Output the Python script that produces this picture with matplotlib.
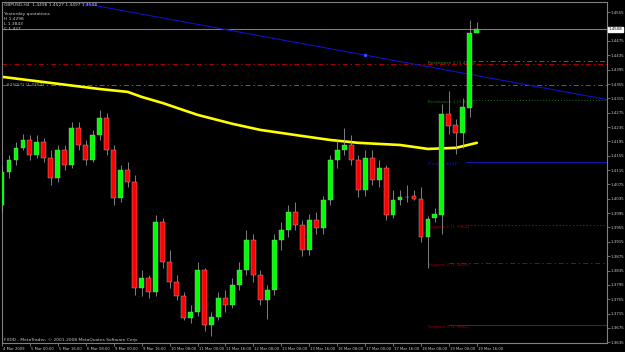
import matplotlib.pyplot as plt
import matplotlib.transforms as mtransforms
import numpy as np

opens = [1.4018, 1.4110, 1.4143, 1.4177, 1.4199, 1.4157, 1.4193, 1.4149, 1.4093, 1.4171,
         1.4129, 1.4232, 1.4185, 1.4143, 1.4213, 1.4260, 1.4171, 1.4037, 1.4115, 1.4082,
         1.3786, 1.3814, 1.3775, 1.3970, 1.3859, 1.3803, 1.3764, 1.3703, 1.3719, 1.3837,
         1.3683, 1.3706, 1.3759, 1.3739, 1.3795, 1.3837, 1.3920, 1.3823, 1.3753, 1.3781,
         1.3920, 1.3948, 1.3998, 1.3962, 1.3892, 1.3976, 1.3954, 1.4032, 1.4143, 1.4171,
         1.4185, 1.4143, 1.4060, 1.4149, 1.4087, 1.4121, 1.3990, 1.4032, 1.4040, 1.4043,
         1.4034, 1.3929, 1.3981, 1.3990, 1.4270, 1.4241, 1.4218, 1.4288, 1.4498]
highs = [1.4129, 1.4157, 1.4193, 1.4216, 1.4213, 1.4213, 1.4204, 1.4171, 1.4185, 1.4185,
         1.4249, 1.4249, 1.4199, 1.4227, 1.4283, 1.4274, 1.4185, 1.4129, 1.4138, 1.4101,
         1.3837, 1.3823, 1.3990, 1.3981, 1.3892, 1.3823, 1.3775, 1.3739, 1.3859, 1.3842,
         1.3719, 1.3775, 1.3781, 1.3814, 1.3859, 1.3948, 1.3937, 1.3837, 1.3795, 1.3937,
         1.3970, 1.4018, 1.4026, 1.3976, 1.3993, 1.3998, 1.4043, 1.4157, 1.4199, 1.4232,
         1.4213, 1.4157, 1.4171, 1.4171, 1.4143, 1.4129, 1.4060, 1.4060, 1.4073, 1.4060,
         1.4068, 1.3987, 1.4009, 1.4298, 1.4336, 1.4257, 1.4316, 1.4533, 1.4527]
lows = [1.3998, 1.4093, 1.4129, 1.4171, 1.4143, 1.4149, 1.4138, 1.4073, 1.4082, 1.4115,
        1.4121, 1.4171, 1.4129, 1.4138, 1.4199, 1.4157, 1.4018, 1.4026, 1.4068, 1.3767,
        1.3764, 1.3759, 1.3764, 1.3842, 1.3786, 1.3753, 1.3697, 1.3689, 1.3708, 1.3667,
        1.3653, 1.3697, 1.3719, 1.3731, 1.3781, 1.3823, 1.3803, 1.3739, 1.3700, 1.3767,
        1.3892, 1.3929, 1.3948, 1.3875, 1.3878, 1.3937, 1.3937, 1.4018, 1.4121, 1.4157,
        1.4129, 1.4040, 1.4043, 1.4073, 1.4068, 1.3976, 1.3981, 1.4018, 1.4026, 1.4032,
        1.3915, 1.3843, 1.3970, 1.3937, 1.4216, 1.4160, 1.4177, 1.4263, 1.4497]
closes = [1.4110, 1.4143, 1.4177, 1.4199, 1.4157, 1.4193, 1.4149, 1.4093, 1.4171, 1.4129,
          1.4232, 1.4185, 1.4143, 1.4213, 1.4260, 1.4171, 1.4037, 1.4115, 1.4082, 1.3786,
          1.3814, 1.3775, 1.3970, 1.3859, 1.3803, 1.3764, 1.3703, 1.3719, 1.3837, 1.3683,
          1.3706, 1.3759, 1.3739, 1.3795, 1.3837, 1.3920, 1.3823, 1.3753, 1.3781, 1.3920,
          1.3948, 1.3998, 1.3962, 1.3892, 1.3976, 1.3954, 1.4032, 1.4143, 1.4171, 1.4185,
          1.4143, 1.4060, 1.4149, 1.4087, 1.4121, 1.3990, 1.4032, 1.4040, 1.4041, 1.4034,
          1.3929, 1.3979, 1.3993, 1.4270, 1.4238, 1.4218, 1.4291, 1.4498, 1.4508]

# media movil (amarilla)
ma_bars = [0, 7, 14, 18, 20, 23, 28, 33, 37, 43, 47, 51, 57, 61, 65, 68]
ma_values = [1.4375, 1.4358, 1.4341, 1.4333, 1.4319, 1.4302, 1.4269, 1.4244,
             1.4227, 1.4210, 1.4199, 1.4191, 1.4185, 1.4174, 1.4177, 1.4191]

# linea de tendencia azul
trend_bars = [11, 86]
trend_prices = [1.4582, 1.4314]
dot_bar = 52
dot_price = 1.4436

# pivotes fibonacci
level_names = ['Resistance 2', 'Resistance 1', 'Pivot', 'Support 1', 'Support 2', 'Support 3']
level_prices = [1.4418, 1.4311, 1.4137, 1.3963, 1.3856, 1.3682]
level_start = [66.4, 67, 66.4, 66.6, 64, 64]
level_colors = ['#1E8C1E', '#1F6A1F', '#1414B4', '#A00000', '#A00000', '#A00000']
level_styles = [(0, (5, 3, 1.5, 3)), (0, (1, 2)), '-', (0, (1.5, 2)), (0, (5, 3, 1.5, 3)), '-']

red_line = 1.4412
green_line = 1.4352
bid = 1.4508

# 1.4515 queda tapado por la caja del precio
price_ticks = [1.3635, 1.3675, 1.3715, 1.3755, 1.3795, 1.3835, 1.3875, 1.3915,
               1.3955, 1.3995, 1.4035, 1.4075, 1.4115, 1.4155, 1.4195, 1.4235,
               1.4275, 1.4315, 1.4355, 1.4395, 1.4435, 1.4475, 1.4555]
time_labels = ['4 Mar 2009', '5 Mar 00:00', '5 Mar 16:00', '6 Mar 08:00', '9 Mar 00:00',
               '9 Mar 16:00', '10 Mar 08:00', '11 Mar 00:00', '11 Mar 16:00', '12 Mar 08:00',
               '13 Mar 00:00', '13 Mar 16:00', '16 Mar 08:00', '17 Mar 00:00', '17 Mar 16:00',
               '18 Mar 08:00', '19 Mar 00:00', '19 Mar 16:00']

fs = 3.2
fg = '#C8C8C8'

fig = plt.figure(figsize=(6.25, 3.52), dpi=100, facecolor='black')
ax = fig.add_axes([2 / 625, 9 / 352, 605 / 625, 341 / 352])
ax.set_facecolor('black')
ax.set_xlim(0.214, 86.64)
ax.set_ylim(1.36330, 1.45836)

bars = np.arange(len(opens))
o = np.array(opens)
c = np.array(closes)
up = c >= o
cols = np.where(up, '#00FF00', '#FF0000')

# lineas horizontales
ax.axhline(bid, color='#6E7F8E', lw=0.8, zorder=1)
ax.axhline(red_line, color='#B00000', lw=0.7, ls=(0, (5, 3, 1.5, 3)), zorder=1)
ax.axhline(green_line, color='#1E8C1E', lw=0.7, ls=(0, (5, 3, 1.5, 3)), zorder=1)
ax.text(0.6, green_line, '#250(T) (1.4352)', color='#A0A0A0', fontsize=fs, va='center', zorder=2)

for name, p, x0, col, st in zip(level_names, level_prices, level_start, level_colors, level_styles):
    ax.plot([x0, 90], [p, p], color=col, lw=0.7, ls=st, zorder=1)
    ax.text(61.0, p, '%s (%.4f)' % (name, p), color=col, fontsize=fs, va='top', zorder=2)

ax.axline((trend_bars[0], trend_prices[0]), (trend_bars[1], trend_prices[1]),
          color='#1010C8', lw=0.8, zorder=1)
ax.plot(dot_bar, dot_price, 'o', color='#3050FF', ms=1.5, zorder=2)

# media movil
ax.plot(ma_bars, ma_values, color='#FFFF00', lw=1.9, zorder=2, solid_capstyle='round')

# velas
ax.vlines(bars, lows, highs, color='#A0A0A0', lw=0.55, zorder=3)
heights = np.abs(c - o)
heights = np.where(heights < 0.00005, 0.00005, heights)
ax.bar(bars, heights, bottom=np.minimum(o, c), width=0.7, color=cols,
       edgecolor='#B0B0B0', linewidth=0.3, zorder=4)

# ejes
for s in ax.spines.values():
    s.set_color('#808080')
    s.set_linewidth(0.8)
ax.yaxis.tick_right()
ax.set_yticks(price_ticks)
ax.set_yticklabels(['%.4f' % t for t in price_ticks])
ax.set_xticks(np.arange(0, len(time_labels) * 4, 4))
ax.set_xticklabels(time_labels, ha='left')
ax.tick_params(axis='both', colors='#808080', labelcolor=fg, length=2, width=0.6, pad=0.8)
ax.tick_params(axis='y', labelsize=2.9)
ax.tick_params(axis='x', labelsize=2.7)
off = mtransforms.ScaledTranslation(1 / 100, 0, fig.dpi_scale_trans)
for lab in ax.get_xticklabels():
    lab.set_transform(lab.get_transform() + off)

# caja de precio actual
blend = mtransforms.blended_transform_factory(ax.transAxes, ax.transData)
ax.text(1.003, bid, '%.4f' % bid, transform=blend, fontsize=2.9, color='black',
        va='center', ha='left', clip_on=False, zorder=10,
        bbox=dict(boxstyle='square,pad=0.15', fc='white', ec='white'))

# textos
fig.text(4 / 625, 1 - 5 / 352, 'GBPUSD,H4  1.4498 1.4527 1.4497 1.4508', color=fg, fontsize=fs, va='center')
fig.text(4 / 625, 1 - 14 / 352, 'Yesterday quotations', color=fg, fontsize=fs, va='center')
fig.text(4 / 625, 1 - 19 / 352, 'H 1.4298', color=fg, fontsize=fs, va='center')
fig.text(4 / 625, 1 - 24 / 352, 'L 1.3843', color=fg, fontsize=fs, va='center')
fig.text(4 / 625, 1 - 29 / 352, 'C 1.427', color=fg, fontsize=fs, va='center')
fig.text(4 / 625, 1 - 340 / 352, 'FXDD - MetaTrader, \u00a9 2001-2008 MetaQuotes Software Corp.',
         color=fg, fontsize=fs, va='center')

plt.savefig('out.png', dpi=100, facecolor='black')
